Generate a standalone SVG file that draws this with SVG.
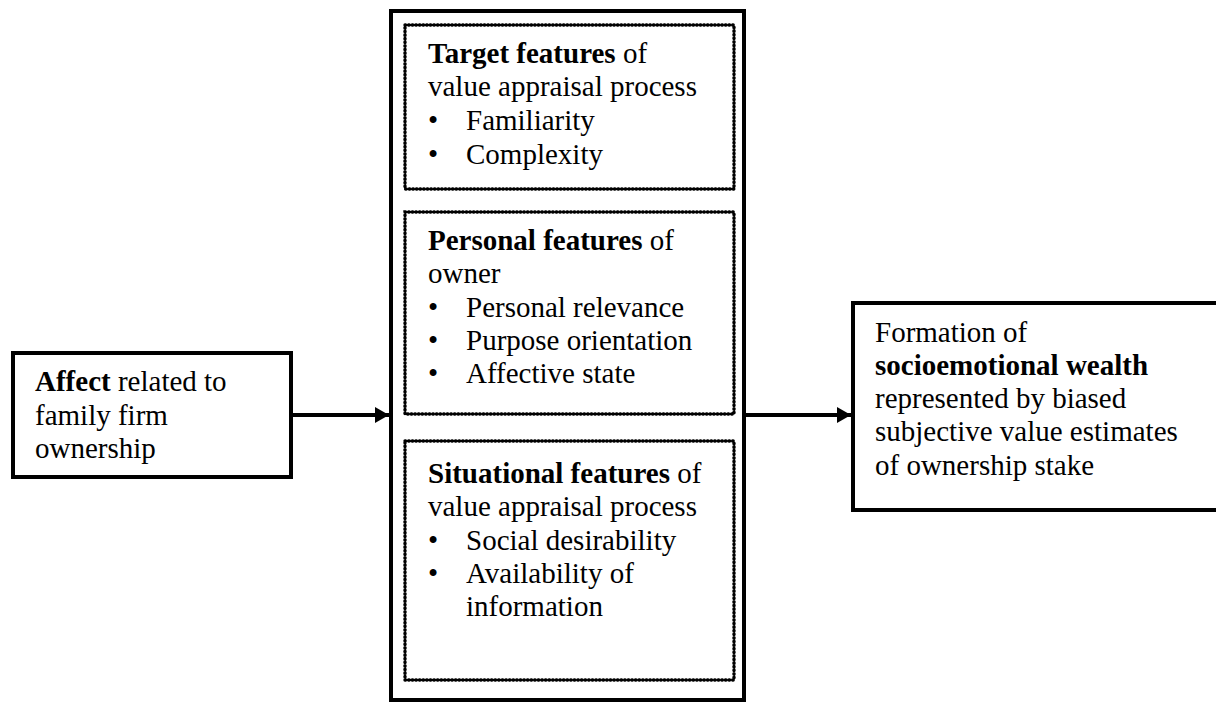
<svg xmlns="http://www.w3.org/2000/svg" width="1216" height="702" viewBox="0 0 1216 702">
<style>
text{font-family:"Liberation Serif","Times New Roman",serif;font-size:29px;fill:#000}
.b{font-weight:bold}
.solid{fill:#fff;stroke:#000;stroke-width:4}
.dot{fill:none;stroke:#000;stroke-width:3.4;stroke-linecap:round;stroke-dasharray:0.6 3}
.conn{stroke:#000;stroke-width:4;fill:none}
</style>
<defs>
<marker id="ah" markerWidth="14" markerHeight="16" refX="14" refY="8" orient="auto" markerUnits="userSpaceOnUse">
<path d="M0,0 L14,8 L0,16 Z" fill="#000"/>
</marker>
</defs>
<rect width="1216" height="702" fill="#fff"/>
<g id="features">
<rect class="solid" x="391" y="11" width="353" height="689"/>
</g>
<g id="target">
<rect class="dot" x="405" y="25" width="329" height="164"/>
<text x="428" y="63"><tspan class="b">Target features</tspan> of</text>
<text x="428" y="96">value appraisal process</text>
<text x="428" y="130">•</text><text x="466" y="130">Familiarity</text>
<text x="428" y="164">•</text><text x="466" y="164">Complexity</text>
</g>
<g id="personal">
<rect class="dot" x="405" y="212" width="329" height="202"/>
<text x="428" y="250"><tspan class="b">Personal features</tspan> of</text>
<text x="428" y="283">owner</text>
<text x="428" y="317">•</text><text x="466" y="317">Personal relevance</text>
<text x="428" y="350">•</text><text x="466" y="350">Purpose orientation</text>
<text x="428" y="383">•</text><text x="466" y="383">Affective state</text>
</g>
<g id="situational">
<rect class="dot" x="405" y="441" width="329" height="239"/>
<text x="428" y="483"><tspan class="b">Situational features</tspan> of</text>
<text x="428" y="516">value appraisal process</text>
<text x="428" y="550">•</text><text x="466" y="550">Social desirability</text>
<text x="428" y="583">•</text><text x="466" y="583">Availability of</text>
<text x="466" y="616">information</text>
</g>
<g id="affect">
<rect class="solid" x="13" y="353" width="278" height="124"/>
<text x="35" y="391"><tspan class="b">Affect</tspan> related to</text>
<text x="35" y="425">family firm</text>
<text x="35" y="458">ownership</text>
</g>
<g id="sew">
<rect class="solid" x="853" y="303" width="366" height="207"/>
<text x="875" y="342">Formation of</text>
<text x="875" y="375" class="b">socioemotional wealth</text>
<text x="875" y="408">represented by biased</text>
<text x="875" y="441">subjective value estimates</text>
<text x="875" y="475">of ownership stake</text>
</g>
<g id="connectors">
<line class="conn" x1="293" y1="415" x2="389" y2="415" marker-end="url(#ah)"/>
<line class="conn" x1="746" y1="415" x2="851" y2="415" marker-end="url(#ah)"/>
</g>
</svg>
